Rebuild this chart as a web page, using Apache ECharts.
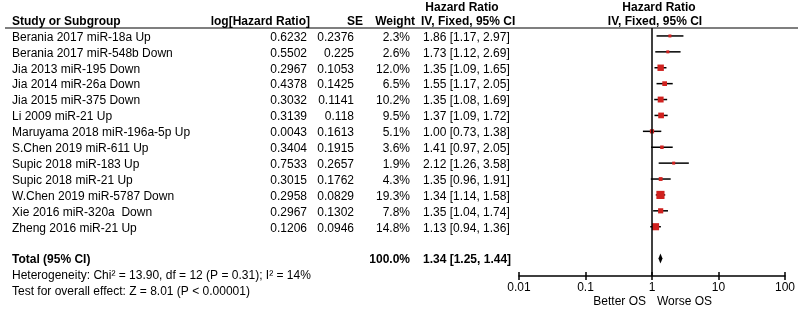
<!DOCTYPE html>
<html>
<head>
<meta charset="utf-8">
<script src="https://cdn.jsdelivr.net/npm/echarts@6/dist/echarts.min.js"></script>
<style>
html, body { margin: 0; padding: 0; background: #fff; }
#main { width: 798px; height: 309px; }
</style>
</head>
<body>
<div id="main"></div>
<script>
var studies = ['Berania 2017 miR-18a Up', 'Berania 2017 miR-548b Down', 'Jia 2013 miR-195 Down',
    'Jia 2014 miR-26a Down', 'Jia 2015 miR-375 Down', 'Li 2009 miR-21 Up',
    'Maruyama 2018 miR-196a-5p Up', 'S.Chen 2019 miR-611 Up', 'Supic 2018 miR-183 Up',
    'Supic 2018 miR-21 Up', 'W.Chen 2019 miR-5787 Down', 'Xie 2016 miR-320a  Down', 'Zheng 2016 miR-21 Up'];
var logHR = ['0.6232', '0.5502', '0.2967', '0.4378', '0.3032', '0.3139', '0.0043', '0.3404', '0.7533', '0.3015', '0.2958', '0.2967', '0.1206'];
var se = ['0.2376', '0.225', '0.1053', '0.1425', '0.1141', '0.118', '0.1613', '0.1915', '0.2657', '0.1762', '0.0829', '0.1302', '0.0946'];
var weight = [2.3, 2.6, 12.0, 6.5, 10.2, 9.5, 5.1, 3.6, 1.9, 4.3, 19.3, 7.8, 14.8];
var hr = [1.86, 1.73, 1.35, 1.55, 1.35, 1.37, 1.00, 1.41, 2.12, 1.35, 1.34, 1.35, 1.13];
var lower = [1.17, 1.12, 1.09, 1.17, 1.08, 1.09, 0.73, 0.97, 1.26, 0.96, 1.14, 1.04, 0.94];
var upper = [2.97, 2.69, 1.65, 2.05, 1.69, 1.72, 1.38, 2.05, 3.58, 1.91, 1.58, 1.74, 1.36];
var total = { hr: 1.34, lo: 1.25, hi: 1.44, weight: '100.0%' };
var xTicks = ['0.01', '0.1', '1', '10', '100'];
var footnotes = ['Heterogeneity: Chi\u00b2 = 13.90, df = 12 (P = 0.31); I\u00b2 = 14%',
    'Test for overall effect: Z = 8.01 (P < 0.00001)'];

var totalRow = studies.length + 1;

var myChart = echarts.init(document.getElementById('main'));

var studyData = studies.map(function (s, i) {
    return [lower[i], upper[i], hr[i], i, weight[i]];
});

var option = {
    animation: false,
    grid: { left: 519, right: 13, top: 28, bottom: 33 },
    xAxis: [{
        type: 'log',
        logBase: 10,
        min: 0.01,
        max: 100,
        interval: 1,
        axisLine: { onZero: false, lineStyle: { color: '#000', width: 1.5 } },
        axisTick: { length: 4, lineStyle: { color: '#000', width: 1.5 } },
        axisLabel: {
            color: '#000', fontSize: 12, fontFamily: 'Liberation Sans', margin: 6,
            formatter: function (v) {
                var i = Math.round(Math.log(v) / Math.LN10) + 2;
                return xTicks[i];
            }
        },
        splitLine: { show: false }
    }, {
        // second copy only for the ticks that stick up
        type: 'log',
        logBase: 10,
        min: 0.01,
        max: 100,
        interval: 1,
        position: 'bottom',
        axisLine: { show: false, onZero: false },
        axisTick: { inside: true, length: 4, lineStyle: { color: '#000', width: 1.5 } },
        axisLabel: { show: false },
        splitLine: { show: false }
    }],
    yAxis: {
        type: 'value',
        inverse: true,
        min: -0.5,
        max: 15.1,
        show: false
    },
    series: [{
        type: 'custom',
        data: studyData,
        encode: { x: [0, 1, 2], y: 3 },
        renderItem: function (params, api) {
            var y = api.value(3);
            var a = api.coord([api.value(0), y]);
            var b = api.coord([api.value(1), y]);
            var c = api.coord([api.value(2), y]);
            var s = Math.max(3, 1.85 * Math.sqrt(api.value(4)));
            return {
                type: 'group',
                children: [{
                    type: 'line',
                    shape: { x1: a[0], y1: a[1], x2: b[0], y2: b[1] },
                    style: { stroke: '#000', lineWidth: 1.5 }
                }, {
                    type: 'rect',
                    shape: { x: c[0] - s / 2, y: c[1] - s / 2, width: s, height: s },
                    style: { fill: '#d0211f' }
                }]
            };
        },
        markLine: {
            silent: true,
            symbol: 'none',
            label: { show: false },
            lineStyle: { color: '#000', width: 1.5, type: 'solid' },
            data: [{ xAxis: 1 }]
        }
    }, {
        type: 'custom',
        data: [[total.lo, total.hi, total.hr, totalRow]],
        encode: { x: [0, 1, 2], y: 3 },
        renderItem: function (params, api) {
            var y = api.value(3);
            var a = api.coord([api.value(0), y]);
            var b = api.coord([api.value(1), y]);
            var c = api.coord([api.value(2), y]);
            return {
                type: 'polygon',
                shape: { points: [[a[0], c[1]], [c[0], c[1] - 5], [b[0], c[1]], [c[0], c[1] + 5]] },
                style: { fill: '#000' }
            };
        }
    }]
};

myChart.setOption(option);

// table text, rows placed with the y axis
var font = 'Liberation Sans';
function rowY(k) {
    return myChart.convertToPixel({ yAxisIndex: 0 }, k) + 1.5;
}
function txt(str, x, y, align, bold) {
    return {
        type: 'text',
        x: x, y: y,
        style: {
            text: str, fill: '#000', fontSize: 12, fontFamily: font,
            fontWeight: bold ? 'bold' : 'normal',
            align: align, verticalAlign: 'middle'
        }
    };
}
var g = [];
g.push(txt('Hazard Ratio', 462, 8, 'center', true));
g.push(txt('Hazard Ratio', 659, 8, 'center', true));
g.push(txt('Study or Subgroup', 12, 22, 'left', true));
g.push(txt('log[Hazard Ratio]', 310, 22, 'right', true));
g.push(txt('SE', 363, 22, 'right', true));
g.push(txt('Weight', 415, 22, 'right', true));
g.push(txt('IV, Fixed, 95% CI', 421, 22, 'left', true));
g.push(txt('IV, Fixed, 95% CI', 655, 22, 'center', true));
g.push({
    type: 'line',
    shape: { x1: 5, y1: 28, x2: 798, y2: 28 },
    style: { stroke: '#000', lineWidth: 1.2 }
});
studies.forEach(function (s, i) {
    var y = rowY(i);
    g.push(txt(s, 12, y, 'left', false));
    g.push(txt(logHR[i], 307, y, 'right', false));
    g.push(txt(se[i], 354, y, 'right', false));
    g.push(txt(weight[i].toFixed(1) + '%', 410, y, 'right', false));
    g.push(txt(hr[i].toFixed(2) + ' [' + lower[i].toFixed(2) + ', ' + upper[i].toFixed(2) + ']', 423, y, 'left', false));
});
var ty = rowY(totalRow);
g.push(txt('Total (95% CI)', 12, ty, 'left', true));
g.push(txt(total.weight, 410, ty, 'right', true));
g.push(txt(total.hr.toFixed(2) + ' [' + total.lo.toFixed(2) + ', ' + total.hi.toFixed(2) + ']', 423, ty, 'left', true));
footnotes.forEach(function (f, i) {
    g.push(txt(f, 12, rowY(totalRow + 1 + i), 'left', false));
});
var x1 = myChart.convertToPixel({ xAxisIndex: 0 }, 1);
g.push(txt('Better OS', x1 - 6, 302, 'right', false));
g.push(txt('Worse OS', x1 + 5, 302, 'left', false));

myChart.setOption({ graphic: g });
</script>
</body>
</html>
